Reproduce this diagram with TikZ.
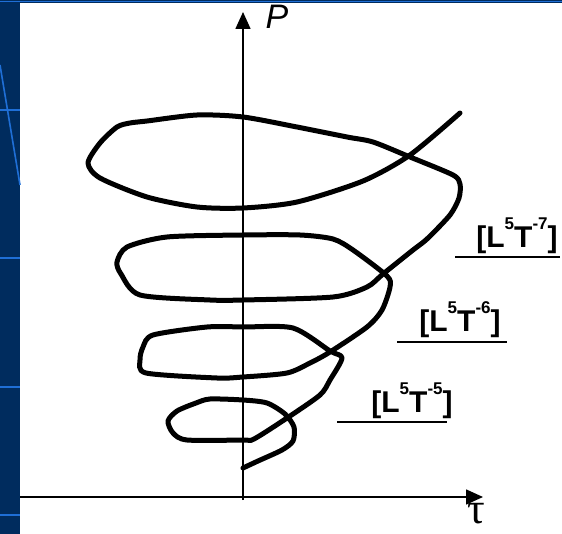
\documentclass[tikz,border=0pt]{standalone}
\usepackage{fontspec}
\usepackage{xcolor}
\usepackage{tikz}
\usetikzlibrary{arrows.meta,positioning}
\newfontfamily\labelfont{Liberation Sans}
\newfontfamily\greekfont{Liberation Serif}
\definecolor{SlideNavy}{HTML}{002C5E}
\definecolor{SlideBlue}{HTML}{1F6FD6}
\tikzset{
  axis/.style={-{Triangle[length=17pt,width=15pt]},line width=1.6pt,draw=black},
  spiral/.style={line width=5pt,line join=round,line cap=round,draw=black},
  dimlabel/.style={anchor=base,inner sep=0pt,font=\labelfont\bfseries\fontsize{30}{30}\selectfont},
  rule/.style={line width=2.2pt,draw=black},
  strip/.style={line width=1.6pt,draw=SlideBlue}
}
\newcommand{\dimsup}[1]{\raisebox{0.6em}{\fontsize{17}{17}\selectfont #1}}

\begin{document}
\begin{tikzpicture}[x=1pt,y=-1pt]
  \useasboundingbox (0,0) rectangle (562,534);
  % slide background
  \fill[SlideNavy] (0,0) rectangle (562,534);
  \fill[white] (20,3) rectangle (562,534);
  \draw[strip] (0,1.5) -- (562,1.5);
  \foreach \y in {110,258,387,515} \draw[strip] (0,\y) -- (20,\y);
  \draw[strip] (0,65) -- (20,185);

  % axes
  \coordinate (orig) at (243,497);
  \coordinate (xleft) at (20,497);
  \coordinate (xend) at (483,497);
  \coordinate (ybot) at (243,500);
  \coordinate (yend) at (243,12);
  \draw[axis] (xleft) -- (xend);
  \draw[axis] (ybot) -- (yend);
  \node[inner sep=0pt,font=\labelfont\itshape\fontsize{34}{34}\selectfont] (plab) at (277,17) {P};
  \node[inner sep=0pt,font=\greekfont\fontsize{44}{44}\selectfont] (taulab) at (476,514) {τ};

  % the spiral
  \draw[spiral] plot[smooth,tension=0.45] coordinates {
    (243,468) (258,461) (282,450) (293,441) (294,427) (285,414) (267,403)
    (243,400) (210,399) (196,403) (177,411) (168,421) (173,433) (187,440)
    (243,440) (254,439) (287,418) (320,395) (330,380) (342,358) (330,351)
    (293,328) (243,327) (207,327) (153,335) (143,347) (140,360) (146,373)
    (217,378) (243,377) (287,373) (310,363) (330,352) (367,327) (382,310)
    (390,287) (387,276) (353,250) (333,239) (300,235) (243,235) (167,237)
    (127,247) (117,262) (121,274) (140,295) (210,300) (243,300) (333,297)
    (367,287) (383,274) (413,250) (427,239) (450,215) (459,198) (460,184)
    (453,175) (410,157) (373,142) (347,137) (297,127) (243,117) (197,115)
    (147,121) (130,123) (117,127) (100,143) (88,163) (100,178) (147,197)
    (197,207) (243,208) (297,202) (363,181) (410,155) (460,113)};

  % dimension labels
  \node[dimlabel] (lab7) at (517,248) {[L\dimsup{5}T\dimsup{-7}]};
  \node[dimlabel] (lab6) at (460,332) {[L\dimsup{5}T\dimsup{-6}]};
  \node[dimlabel] (lab5) at (412,412) {[L\dimsup{5}T\dimsup{-5}]};
  \draw[rule] (455,257) -- (560,257);
  \draw[rule] (397,342) -- (507,342);
  \draw[rule] (337,422) -- (447,422);
\end{tikzpicture}
\end{document}
